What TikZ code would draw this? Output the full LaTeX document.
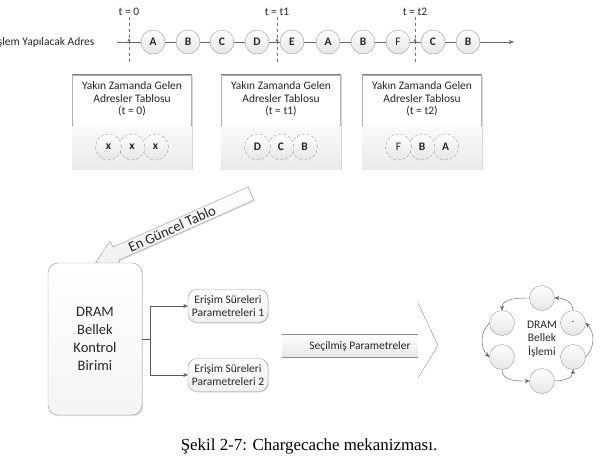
\documentclass[tikz,border=0pt]{standalone}
\usepackage{fontspec}
\setmainfont{Carlito}
\newfontfamily\captionfont{Liberation Serif}
\usetikzlibrary{positioning}
\usetikzlibrary{arrows.meta}
\usetikzlibrary{shadows}

\tikzset{
  txt/.style={font=\fontsize{11.5}{12.5}\selectfont, text=black!85},
  addr/.style={circle, draw=black!40, inner sep=0pt, minimum size=24pt,
    top color=white, bottom color=black!10, text=black!85,
    font=\fontsize{11.5}{13}\selectfont\bfseries},
  slot/.style={addr, minimum size=26pt, densely dashed},
  tablebox/.style={rectangle, draw=black!30, fill=white, minimum width=119pt,
    minimum height=94pt, drop shadow={shadow xshift=1.2pt, shadow yshift=-1.2pt, opacity=0.3}},
  ctrlbox/.style={rectangle, rounded corners=10pt, draw=black!40, top color=white,
    bottom color=black!4, minimum width=94pt, minimum height=152pt, align=center,
    text=black!85, font=\fontsize{14.5}{18}\selectfont,
    drop shadow={shadow xshift=1.2pt, shadow yshift=-1.2pt, opacity=0.25}},
  parambox/.style={rectangle, rounded corners=9pt, draw=black!40, top color=white,
    bottom color=black!6, minimum width=80pt, minimum height=33pt, align=center,
    inner sep=1pt, text=black!85, font=\fontsize{11.5}{13}\selectfont,
    drop shadow={shadow xshift=1pt, shadow yshift=-1pt, opacity=0.25}},
  opstate/.style={circle, draw=black!40, inner sep=0pt, minimum size=25pt,
    top color=white, bottom color=black!10},
  flow/.style={draw=black!65, -{Stealth[length=4.5pt,width=4pt]}},
}

\begin{document}
\begin{tikzpicture}[x=1pt,y=-1pt]
  \useasboundingbox (0,0) rectangle (603,459);

  % time marks
  \foreach \x/\tl in {129/0, 277/t1, 415/t2} {
    \draw[black!55, dashed] (\x,17) -- (\x,64);
    \node[txt] at (\x,12) {t = \tl};
  }

  % address stream
  \node[txt, anchor=east] (stream) at (98,42) {İşlem Yapılacak Adres};
  \coordinate (tstart) at (117,42);
  \coordinate (tend) at (514,42);
  \draw[black!60, -{Stealth[length=5pt,width=4pt]}] (tstart) -- (tend);
  \foreach \x in {129, 277, 415}
    \draw[black!60, -{Stealth[length=3pt,width=3pt]}] (\x,44) -- (\x,38.5);
  \foreach \name/\x/\lbl in {sa/153/A, sb/188/B, sc/222/C, sd/257/D, se/292/E,
                             sf/328/A, sg/363/B, sh/398/{\mdseries F}, si/433/C, sj/468/B}
    \node[addr] (\name) at (\x,42) {\lbl};

  % recent address tables
  \foreach \n/\cx/\tl/\la/\lb/\lc in {tab0/132/0/x/x/x, tab1/281/t1/D/C/B,
                                      tab2/422/t2/{\mdseries F}/B/A} {
    \node[tablebox] (\n) at (\cx,122) {};
    \fill[top color=black!2, bottom color=black!8] (\n.south west) rectangle ([yshift=44pt]\n.south east);
    \draw[black!50, line width=1.2pt] (\n.north west) -- (\n.north east);
    \node[txt, align=center] at (\cx,99) {Yakın Zamanda Gelen\\Adresler Tablosu\\(t = \tl)};
    \node[slot] (\n c) at (\cx+23.5,147) {\lc};
    \node[slot] (\n b) at (\cx,147) {\lb};
    \node[slot] (\n a) at (\cx-23.5,147) {\la};
  }

  % latest table arrow
  \begin{scope}[shift={(251,193.5)}, rotate=204]
    \draw[black!40, top color=white, bottom color=black!6,
      drop shadow={shadow xshift=1pt, shadow yshift=-1pt, opacity=0.25}]
      (0,-7.2) -- (148,-7.2) -- (148,-14) -- (170,0) -- (148,14) -- (148,7.2) -- (0,7.2) -- cycle;
  \end{scope}
  \node[text=black!85, font=\fontsize{14.5}{16}\selectfont, rotate=24] (latest) at (172,228.7) {En Güncel Tablo};

  % controller and parameter sets
  \node[ctrlbox] (ctrl) at (95,339) {DRAM\\Bellek\\Kontrol\\Birimi};
  \node[parambox] (p1) at (228,306) {Erişim Süreleri\\Parametreleri 1};
  \node[parambox] (p2) at (228,375) {Erişim Süreleri\\Parametreleri 2};
  \coordinate (fork) at (150,339);
  \draw[black!65] (ctrl.east) -- (fork);
  \draw[flow] (fork) |- (p1.west);
  \draw[flow] (fork) |- (p2.west);

  % selected parameters arrow
  \coordinate (sa1) at (282,334);
  \coordinate (sa2) at (418,334);
  \coordinate (sa3) at (418,357);
  \coordinate (sa4) at (282,357);
  \coordinate (sh1) at (418,303);
  \coordinate (sh2) at (438,345.5);
  \coordinate (sh3) at (418,378);
  \fill[top color=white, middle color=white, bottom color=black!9] (sa1) rectangle (sa3);
  \draw[black!45] (sa1) -- (sa2);
  \draw[black!45] (sa4) -- (sa3);
  \draw[black!45] (sh1) -- (sh2) -- (sh3);
  \node[txt] (chosen) at (360,346) {Seçilmiş Parametreler};

  % DRAM operation cycle
  \node[txt, align=center, font=\fontsize{11.5}{13.5}\selectfont] (op) at (542,339) {DRAM\\Bellek\\İşlemi};
  \node[opstate] (top) at (542,298) {};
  \node[opstate] (ul) at (502,323) {};
  \node[opstate, font=\fontsize{8}{8}\selectfont] (ur) at (573,323) {-};
  \node[opstate] (ll) at (502,357) {};
  \node[opstate] (lr) at (573,357) {};
  \node[opstate] (bot) at (542,381) {};
  \draw[flow] (top.west) to[out=180,in=90] (ul.north);
  \draw[flow] (ul.west) to[out=225,in=135] (ll.west);
  \draw[flow] (ll.south) to[out=270,in=180] (bot.west);
  \draw[flow] (bot.east) to[out=0,in=270] (lr.south);
  \draw[flow] (lr.east) to[out=45,in=-45] (ur.east);
  \draw[flow] (ur.north) to[out=90,in=0] (top.east);

  % caption
  \node[font=\captionfont\fontsize{16.9}{20}\selectfont] (caption) at (309,446) {Şekil 2-7: Chargecache mekanizması.};
\end{tikzpicture}
\end{document}
